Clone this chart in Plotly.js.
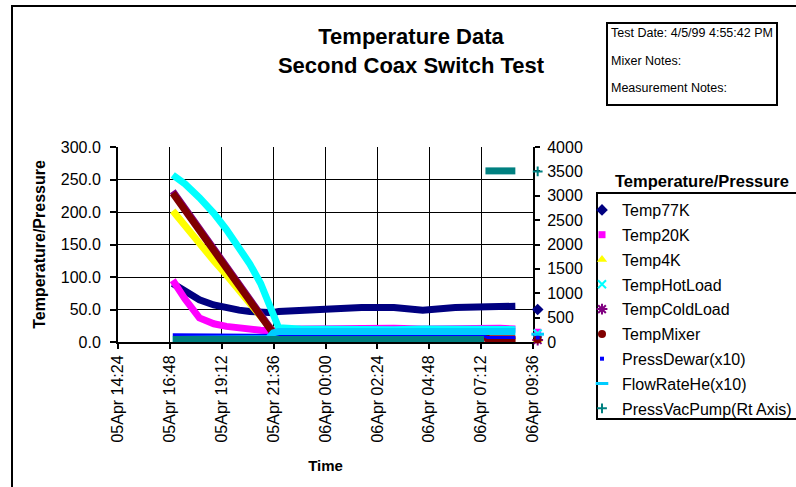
<!DOCTYPE html>
<html>
<head>
<meta charset="utf-8">
<script src="https://cdn.plot.ly/plotly-3.0.1.min.js"></script>
<style>html,body{margin:0;padding:0;background:#fff;}#chart{width:796px;height:487px;}</style>
</head>
<body>
<div id="chart"></div>
<script>
// ---- data ----
var times = ["1999-04-05 16:56","1999-04-05 17:30","1999-04-05 18:10","1999-04-05 18:50","1999-04-05 19:25",
  "1999-04-05 20:00","1999-04-05 20:30","1999-04-05 21:00","1999-04-05 21:20","1999-04-05 21:35",
  "1999-04-05 21:50","1999-04-05 22:50","1999-04-06 00:10","1999-04-06 01:40","1999-04-06 03:10",
  "1999-04-06 04:30","1999-04-06 06:00","1999-04-06 07:20","1999-04-06 07:30","1999-04-06 08:05","1999-04-06 08:47"];
var temp77K     = [90,78,65,57,52,49,47,46,45,45,47,49,51,53,53,49,53,53,53,54,55];
var temp20K     = [95,66,37,28,24,21,19,18,17.5,17,18,20,21,20,21,20,21,20,20,21,20];
var temp4K      = [202,178,150,125,103,80,60,40,25,14,6,4,4,4,4,4,4,4,4,4,4];
var tempHotLoad = [257,243,222,198,173,146,120,90,62,38,22,20,19,20,19,20,19,20,20,19,19];
var tempColdLoad= [232,206,175,144,117,90,66,43,27,15,14,15,15,15,15,15,15,15,3,2,2];
var tempMixer   = [229,203,172,141,114,87,63,40,24,13,12,13,13,13,13,13,13,13,5,5,5];
var pressDewar  = [11,11,11,11,11,11,11,10,10,10,10,9,9,9,9,9,9,9,7,7,7];
var flowRateHe  = [4,4,4,4,4,4,4,4,5,14,16,16,16,16,16,16,16,16,16,16,16];
var vacTimes = ["1999-04-05 16:56","1999-04-05 18:50","1999-04-05 21:00","1999-04-05 22:50","1999-04-06 01:40",
  "1999-04-06 04:30","1999-04-06 06:00","1999-04-06 07:20","1999-04-06 07:22","1999-04-06 07:24","1999-04-06 08:05","1999-04-06 08:47"];
var pressVacPump = [50,50,50,50,50,50,50,50,null,3510,3510,3510];
// last logged sample (drawn just beyond the axis end)
var lastTime = "1999-04-06 09:49";
var lastValues = {Temp77K:50, Temp20K:15, Temp4K:4, TempHotLoad:13, TempColdLoad:3, TempMixer:4,
  "PressDewar(x10)":7, "FlowRateHe(x10)":12, "PressVacPump(Rt Axis)":3500};
var seriesNames = ["Temp77K","Temp20K","Temp4K","TempHotLoad","TempColdLoad","TempMixer","PressDewar(x10)","FlowRateHe(x10)","PressVacPump(Rt Axis)"];
var xRange = ["1999-04-05 14:24","1999-04-06 09:36"];

// ---- styles ----
var FONT = "Liberation Sans, Arial, sans-serif";
var styles = {
  "Temp77K":      {color:"#000080", lw:7, sym:"diamond", size:9},
  "Temp20K":      {color:"#FF00FF", lw:7, sym:"square", size:7},
  "Temp4K":       {color:"#FFFF00", lw:7, sym:"triangle-up", size:9},
  "TempHotLoad":  {color:"#00FFFF", lw:7, sym:"x-thin", size:8, open:true},
  "TempColdLoad": {color:"#800080", lw:7, sym:"asterisk", size:9, open:true},
  "TempMixer":    {color:"#800000", lw:7, sym:"circle", size:8},
  "PressDewar(x10)": {color:"#0000FF", lw:3, sym:"square", size:4},
  "FlowRateHe(x10)": {color:"#00CCFF", lw:7, sym:"line-ew", size:9, open:true},
  "PressVacPump(Rt Axis)": {color:"#008080", lw:7, sym:"cross-thin", size:7, open:true}
};
var seriesData = {
  "Temp77K":temp77K, "Temp20K":temp20K, "Temp4K":temp4K, "TempHotLoad":tempHotLoad,
  "TempColdLoad":tempColdLoad, "TempMixer":tempMixer, "PressDewar(x10)":pressDewar, "FlowRateHe(x10)":flowRateHe
};

var traces = [];
seriesNames.forEach(function(n, i){
  var s = styles[n];
  var isVac = (n === "PressVacPump(Rt Axis)");
  traces.push({
    type:"scatter", mode:"lines", name:n, legendgroup:"g"+i, showlegend:false,
    x: isVac ? vacTimes : times, y: isVac ? pressVacPump : seriesData[n],
    yaxis: isVac ? "y2" : "y", connectgaps:false,
    line:{color:s.color, width:s.lw}
  });
});
seriesNames.forEach(function(n, i){
  var s = styles[n];
  var isVac = (n === "PressVacPump(Rt Axis)");
  var mk = {symbol:s.sym, size:s.size, color:s.color};
  if (s.open) mk.line = {color:s.color, width: (n==="FlowRateHe(x10)"?3:2)};
  traces.push({
    type:"scatter", mode:"markers", name:n, legendgroup:"g"+i, showlegend:true,
    x:[lastTime], y:[lastValues[n]], xaxis:"x3", yaxis: isVac ? "y4" : "y3",
    cliponaxis:false, marker:mk
  });
});

// geometry: main plot 118..533 px, paper extended to 545 px for the trailing sample
var L = 118, R = 545, T = 147, B = 342, MAIN_R = 533;
var W = R - L;
function px(v){ return (v-L)/W; }
function py(v){ return (B-v)/(B-T); }
var t0 = new Date(xRange[0].replace(" ","T")+"Z").getTime();
var t1 = new Date(xRange[1].replace(" ","T")+"Z").getTime();
var t3 = new Date(t0 + (t1-t0)*W/(MAIN_R-L)).toISOString().replace("T"," ").replace("Z","");

var layout = {
  width:796, height:487,
  margin:{l:L, r:796-R, t:T, b:487-B, autoexpand:false},
  paper_bgcolor:"#fff", plot_bgcolor:"rgba(0,0,0,0)",
  font:{family:FONT, color:"#000"},
  showlegend:true,
  title:{text:"<b>Temperature Data</b><br><b>Second Coax Switch Test</b>",
    font:{family:FONT, size:22, color:"#000"},
    xref:"container", x:411/796, xanchor:"center",
    yref:"container", y:1-44/487, yanchor:"top"},
  xaxis:{type:"date", domain:[0, (MAIN_R-L)/W], range:xRange, tick0:xRange[0], dtick:8640000,
    tickformat:"%d%b %H:%M", tickangle:-90,
    ticks:"outside", ticklen:5, tickwidth:2, tickcolor:"#000",
    showline:true, linecolor:"#000", linewidth:2, mirror:false,
    showgrid:true, gridcolor:"#000", gridwidth:1, zeroline:false,
    tickfont:{family:FONT, size:16, color:"#000"},
    title:{text:"<b>Time</b>", font:{family:FONT, size:15, color:"#000"}, standoff:19}},
  yaxis:{range:[0,300], dtick:50, tickformat:".1f",
    ticks:"outside", ticklen:6, tickwidth:2, tickcolor:"#000", ticklabelstandoff:6,
    showline:true, linecolor:"#000", linewidth:2,
    showgrid:true, gridcolor:"#000", gridwidth:1, zeroline:false,
    tickfont:{family:FONT, size:16, color:"#000"},
    title:{text:"<b>Temperature/Pressure</b>", font:{family:FONT, size:16, color:"#000"}, standoff:11}},
  yaxis2:{range:[0,4000], dtick:500, overlaying:"y", side:"right", anchor:"x",
    ticks:"outside", ticklen:5, tickwidth:2, tickcolor:"#000", ticklabelstandoff:4,
    showline:true, linecolor:"#000", linewidth:2,
    showgrid:false, zeroline:false,
    tickfont:{family:FONT, size:16, color:"#000"}},
  xaxis3:{type:"date", domain:[0,1], range:[xRange[0], t3], anchor:"y3", visible:false, showgrid:false, zeroline:false},
  yaxis3:{domain:[0,1], range:[0,300], anchor:"x3", visible:false, showgrid:false, zeroline:false},
  yaxis4:{range:[0,4000], overlaying:"y3", anchor:"x3", visible:false, showgrid:false, zeroline:false},
  legend:{x:px(582), y:py(193), xanchor:"left", yanchor:"top", maxheight:280,
    bgcolor:"rgba(0,0,0,0)", borderwidth:0, tracegroupgap:1,
    font:{family:FONT, size:16, color:"#000"}, traceorder:"grouped"},
  shapes:[
    {type:"rect", xref:"paper", yref:"paper", x0:px(12), x1:px(810), y0:py(500), y1:py(6), line:{color:"#000", width:2}, fillcolor:"rgba(0,0,0,0)", layer:"below"},
    {type:"rect", xref:"paper", yref:"paper", x0:px(607), x1:px(777), y0:py(105), y1:py(23), line:{color:"#000", width:2}, fillcolor:"rgba(0,0,0,0)"},
    {type:"rect", xref:"paper", yref:"paper", x0:px(597), x1:px(810), y0:py(419), y1:py(193), line:{color:"#000", width:2}, fillcolor:"rgba(0,0,0,0)"}
  ],
  annotations:[
    {xref:"paper", yref:"paper", x:px(609), y:py(33), xanchor:"left", yanchor:"middle", showarrow:false,
      text:"Test Date: 4/5/99 4:55:42 PM", font:{family:FONT, size:12.5, color:"#000"}},
    {xref:"paper", yref:"paper", x:px(609), y:py(61), xanchor:"left", yanchor:"middle", showarrow:false,
      text:"Mixer Notes:", font:{family:FONT, size:12.5, color:"#000"}},
    {xref:"paper", yref:"paper", x:px(609), y:py(88), xanchor:"left", yanchor:"middle", showarrow:false,
      text:"Measurement Notes:", font:{family:FONT, size:12.5, color:"#000"}},
    {xref:"paper", yref:"paper", x:px(702), y:py(181), xanchor:"center", yanchor:"middle", showarrow:false,
      text:"<b>Temperature/Pressure</b>", font:{family:FONT, size:16.5, color:"#000"}}
  ]
};
Plotly.newPlot("chart", traces, layout, {displayModeBar:false, staticPlot:true});
</script>
</body>
</html>
